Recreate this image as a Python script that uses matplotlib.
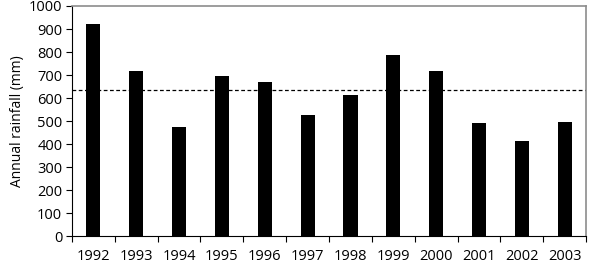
import matplotlib.pyplot as plt
import numpy as np

plt.rcParams['font.family'] = ['Open Sans', 'DejaVu Sans']

years = ['1992', '1993', '1994', '1995', '1996', '1997',
         '1998', '1999', '2000', '2001', '2002', '2003']
rainfall = [922, 719, 475, 697, 668, 526, 613, 787, 719, 493, 412, 494]
mean_rainfall = 636


def main():
    fig = plt.figure(figsize=(5.89, 2.62), dpi=100)
    ax = fig.add_axes([0.1222, 0.0992, 0.8728, 0.8779])
    x = np.arange(len(years))
    ax.bar(x, rainfall, width=0.33, color='black')
    ax.axhline(mean_rainfall, color='black', linestyle='--', linewidth=0.9, dashes=(3, 2))

    ax.set_xlim(-0.5, len(years) - 0.5)
    ax.set_ylim(0, 1000)
    ax.set_yticks(np.arange(0, 1001, 100))
    ax.set_xticks(x)
    ax.set_xticklabels(years)
    ax.set_xticks(np.arange(-0.5, len(years), 1), minor=True)
    ax.tick_params(axis='x', which='major', length=0, pad=9, labelsize=10.5)
    ax.tick_params(axis='x', which='minor', length=4, width=0.8, direction='out')
    ax.tick_params(axis='y', length=4, width=0.8, labelsize=10.5, pad=3)
    ax.set_ylabel('Annual rainfall (mm)', fontsize=10, labelpad=3)

    for side in ['top', 'right']:
        ax.spines[side].set_color('#8c8c8c')
        ax.spines[side].set_linewidth(1.2)
    for side in ['left', 'bottom']:
        ax.spines[side].set_color('black')
        ax.spines[side].set_linewidth(0.8)

    fig.savefig('out.png', dpi=100)


if __name__ == "__main__":
    main()
